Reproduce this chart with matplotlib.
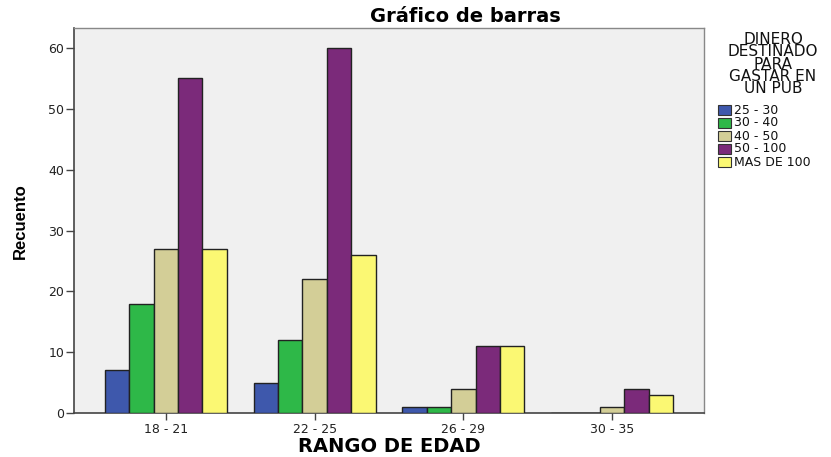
import matplotlib
matplotlib.use("Agg")
import matplotlib.pyplot as plt
from matplotlib.patches import Rectangle
import numpy as np

plt.rcParams['font.family'] = ['DejaVu Sans']

categories = ["18 - 21", "22 - 25", "26 - 29", "30 - 35"]
series_names = ["25 - 30", "30 - 40", "40 - 50", "50 - 100", "MAS DE 100"]
v_25_30 = [7, 5, 1, 0]
v_30_40 = [18, 12, 1, 0]
v_40_50 = [27, 22, 4, 1]
v_50_100 = [55, 60, 11, 4]
v_mas_100 = [27, 26, 11, 3]
series_values = [v_25_30, v_30_40, v_40_50, v_50_100, v_mas_100]
colors = ["#3E58AC", "#2EB848", "#D3CE97", "#7B2A7A", "#FBF873"]
y_ticks = [0, 10, 20, 30, 40, 50, 60]

W, H = 831, 457
fig = plt.figure(figsize=(W / 100, H / 100), dpi=100)
ax = fig.add_axes([74 / W, 1 - 413 / H, (704 - 74) / W, (413 - 28) / H])
ax.set_facecolor("#F0F0F0")

x = np.arange(len(categories))
w = 0.164
for i, (name, vals, col) in enumerate(zip(series_names, series_values, colors)):
    offs = (i - 2) * w
    ax.bar(x + offs, vals, width=w, color=col, edgecolor="#222222",
           linewidth=1.0, label=name, zorder=3)

ax.set_xlim(-0.617, 3.617)
ax.set_ylim(0, 63.3)
ax.set_xticks(x)
ax.set_xticklabels(categories, fontsize=9, color="#222222")
ax.set_yticks(y_ticks)
ax.set_yticklabels([str(t) for t in y_ticks], fontsize=9, color="#222222")
ax.tick_params(axis="y", length=6, width=1, color="#444444", pad=1)
ax.tick_params(axis="x", length=5, width=1, color="#444444", pad=2)
for s in ["left", "bottom"]:
    ax.spines[s].set_color("#444444")
    ax.spines[s].set_linewidth(1.2)
for s in ["top", "right"]:
    ax.spines[s].set_color("#888888")
    ax.spines[s].set_linewidth(1.0)

fig.text(389 / W, 1 - 447 / H, "RANGO DE EDAD", fontsize=14,
         fontweight="bold", ha="center", va="center")
fig.text(20 / W, 1 - 221 / H, "Recuento", fontsize=12,
         fontweight="bold", ha="center", va="center", rotation=90,
         family=["Liberation Sans Narrow", "Liberation Sans"])
fig.text(465 / W, 1 - 16 / H, "Gráfico de barras", fontsize=14,
         fontweight="bold", ha="center", va="center")

# Legend drawn by hand: centred title block, then swatch + label rows
fig.text(773 / W, 1 - 32 / H, "DINERO\nDESTINADO\nPARA\nGASTAR EN\nUN PUB",
         fontsize=11, ha="center", va="top", multialignment="center",
         linespacing=0.78, color="#111111")
row_y = [110, 123, 136, 149, 162]
for name, col, yy in zip(series_names, colors, row_y):
    fig.add_artist(Rectangle((718 / W, 1 - (yy + 5) / H), 13 / W, 10 / H,
                             facecolor=col, edgecolor="#333333",
                             linewidth=0.8, transform=fig.transFigure))
    fig.text(734 / W, 1 - yy / H, name, fontsize=9, ha="left",
             va="center", color="#111111")

fig.savefig("out.png", dpi=100)
